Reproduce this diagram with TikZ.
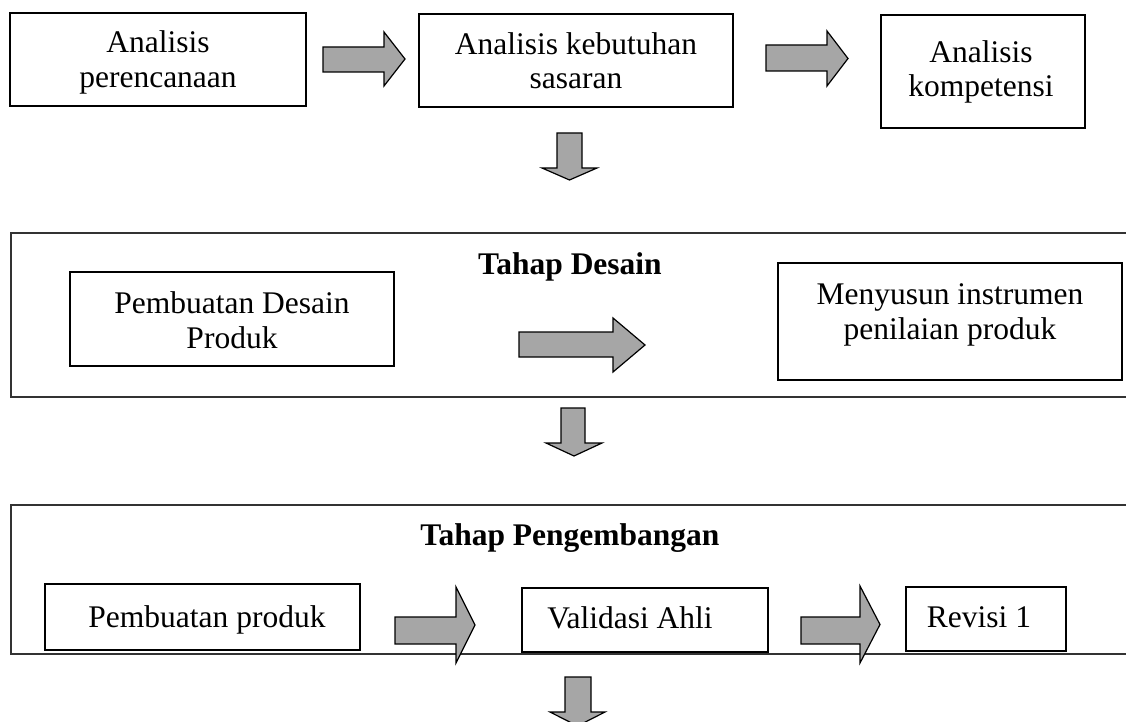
\documentclass[tikz,border=0pt]{standalone}
\usepackage{fontspec}
\setmainfont{Liberation Serif}
\definecolor{arrowgray}{RGB}{166,166,166}
\newcommand\rblock[7]{\draw[barrow] (#1,#6) -- (#2,#6) -- (#2,#4) -- (#3,{(#4+#5)/2}) -- (#2,#5) -- (#2,#7) -- (#1,#7) -- cycle;}
\newcommand\dblock[7]{\draw[barrow] (#1,#5) -- (#2,#5) -- (#2,#6) -- (#4,#6) -- ({(#3+#4)/2},#7) -- (#3,#6) -- (#1,#6) -- cycle;}
\tikzset{
  box/.style={draw=black, line width=1.6pt},
  panel/.style={draw=black!80, line width=2pt},
  barrow/.style={draw=black, line width=1.2pt, fill=arrowgray, line join=miter},
  txt/.style={font=\fontsize{31.5}{35}\selectfont, inner sep=0pt, anchor=base},
  ttl/.style={font=\fontsize{31.5}{35}\selectfont\bfseries, inner sep=0pt, anchor=base},
}
\begin{document}
\begin{tikzpicture}[x=1pt,y=-1pt]
\useasboundingbox (0,0) rectangle (1126,722);
\begin{scope}
\clip (0,0) rectangle (1126,722);
% top row
\draw[box] (10,13) rectangle (306,106);
\node[txt] (a1) at (158,53) {Analisis};
\node[txt] (a2) at (158,88) {perencanaan};
\rblock{323}{384}{405}{32}{86}{47}{72}
\draw[box] (419,14) rectangle (733,107);
\node[txt] (b1) at (576,55) {Analisis kebutuhan};
\node[txt] (b2) at (576,89) {sasaran};
\rblock{766}{827}{848}{31}{86}{45}{71}
\draw[box] (881,15) rectangle (1085,128);
\node[txt] (c1) at (981,63) {Analisis};
\node[txt] (c2) at (981,97) {kompetensi};
\dblock{557}{582}{542}{597}{133}{168}{180}
% panel 2
\draw[panel] (11,233) rectangle (1150,397);
\node[ttl] (t2) at (570,274) {Tahap Desain};
\draw[box] (70,272) rectangle (394,366);
\node[txt] (d1) at (232,313) {Pembuatan Desain};
\node[txt] (d2) at (232,348) {Produk};
\rblock{519}{613}{645}{318}{372}{332}{357}
\draw[box] (778,263) rectangle (1122,380);
\node[txt] (e1) at (950,304) {Menyusun instrumen};
\node[txt] (e2) at (950,339) {penilaian produk};
\dblock{561}{585}{546}{602}{408}{443}{456}
% panel 3
\draw[panel] (11,505) rectangle (1150,654);
\node[ttl] (t3) at (570,545) {Tahap Pengembangan};
\draw[box] (45,584) rectangle (360,650);
\node[txt] (f1) at (207,627) {Pembuatan produk};
\rblock{395}{456}{475}{587}{663}{617}{644}
\draw[box] (522,588) rectangle (768,652);
\node[txt] (g1) at (630,628) {Validasi Ahli};
\rblock{801}{860}{880}{586}{663}{617}{644}
\draw[box] (906,587) rectangle (1066,651);
\node[txt] (h1) at (979,627) {Revisi 1};
\dblock{565}{591}{550}{605}{677}{712}{726}
\end{scope}
\end{tikzpicture}
\end{document}
